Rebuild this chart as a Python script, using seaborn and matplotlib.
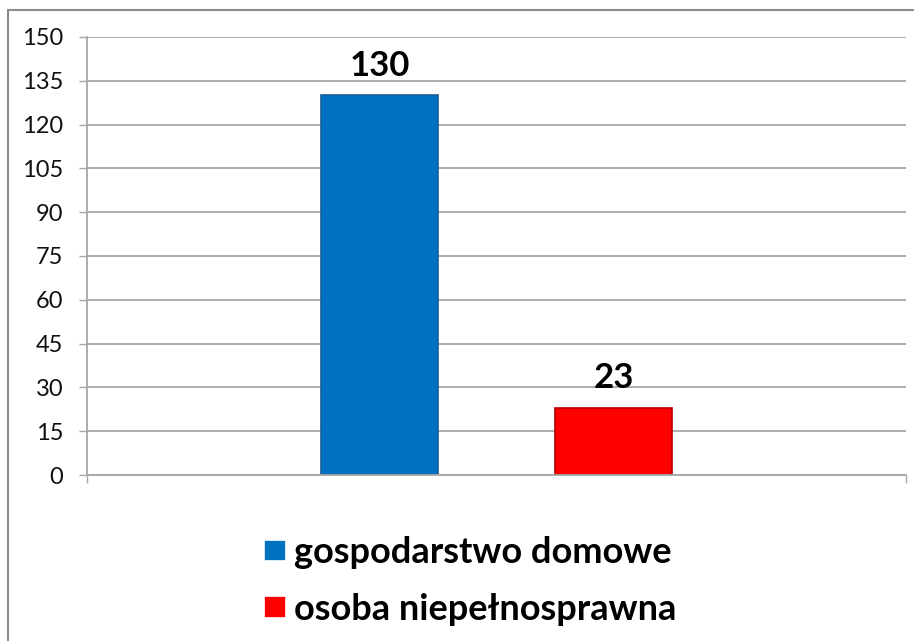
import seaborn as sns
import matplotlib.pyplot as plt
import pandas as pd
from matplotlib.patches import Rectangle

# dane z wykresu
series = ['gospodarstwo domowe', 'osoba niepełnosprawna']
values = [130, 23]
colors = ['#0070C0', '#FF0000']
edge_colors = ['#1A5E96', '#B80000']
y_ticks = list(range(0, 151, 15))

sns.set_theme(style='white')
plt.rcParams['font.family'] = ['Lato', 'DejaVu Sans']

df = pd.DataFrame({'kat': [''] * len(series), 'seria': series, 'liczba': values})

fig = plt.figure(figsize=(9.14, 6.41), dpi=100)
ax = fig.add_axes([87 / 914, 1 - 475 / 641, (906 - 87) / 914, (475 - 37) / 641])

sns.barplot(data=df, x='kat', y='liczba', hue='seria', hue_order=series,
            palette=colors, saturation=1, width=0.572, gap=0.5, ax=ax,
            linewidth=1.2)
for patch, ec in zip(ax.patches, edge_colors):
    patch.set_edgecolor(ec)

# etykiety nad słupkami
for cont in ax.containers:
    ax.bar_label(cont, fontsize=25, fontweight='bold', padding=10, color='black')

# osie
ax.set_ylim(0, 150)
ax.set_xlim(-0.5, 0.5)
ax.set_yticks(y_ticks)
ax.set_xticks([-0.5, 0.5], ['', ''])
ax.set_xlabel('')
ax.set_ylabel('')
ax.yaxis.grid(True, color='#a6a6a6', lw=1.3)
ax.set_axisbelow(True)
ax.tick_params(axis='y', length=6, width=1, color='#a6a6a6', direction='out',
               pad=11, labelsize=17, left=True, labelcolor='#111111')
ax.tick_params(axis='x', length=6, width=1, color='#a6a6a6', direction='out',
               bottom=True)
for side in ['top', 'right']:
    ax.spines[side].set_visible(False)
for side in ['left', 'bottom']:
    ax.spines[side].set_color('#a6a6a6')
    ax.spines[side].set_linewidth(1.3)

# legenda pod wykresem
sns.move_legend(ax, 'center left', bbox_to_anchor=(264 / 914, 1 - 581 / 641),
                bbox_transform=fig.transFigure, title=None, frameon=False,
                prop={'weight': 'bold', 'size': 26}, handlelength=0.62,
                handleheight=0.56, handletextpad=0.2, labelspacing=0.65,
                borderpad=0, borderaxespad=0, labelcolor='black')

# ramka wykresu
fig.patches.append(Rectangle((8 / 914, -0.1), 1.2, 1.1 - 10 / 641,
                             transform=fig.transFigure, fill=False,
                             ec='#8c8c8c', lw=1.5))

fig.savefig('out.png', dpi=100)
